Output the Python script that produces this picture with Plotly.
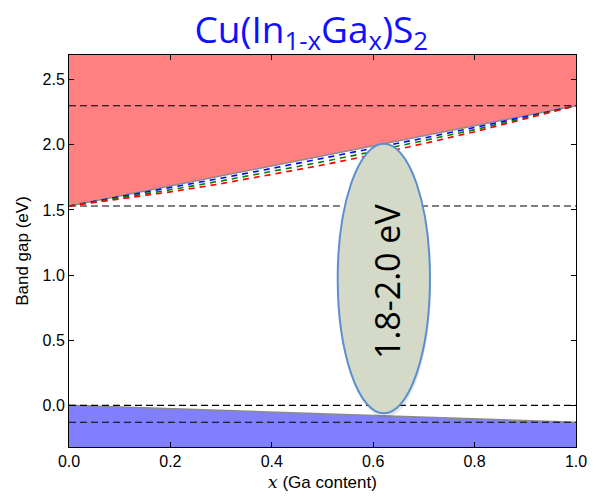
import plotly.graph_objects as go

# ---- data ----
ga_x = [0.0, 1.0]
cbm_edge = [1.53, 2.30]          # upper (red) band edge
vbm_edge = [0.0, -0.13]          # lower (blue) band edge
ref_levels = [2.30, 1.53, 0.0, -0.13]

curve_x = [0.0, 0.1, 0.2, 0.3, 0.4, 0.5, 0.6, 0.7, 0.8, 0.9, 1.0]
gap_blue = [1.53, 1.600, 1.671, 1.744, 1.819, 1.895, 1.973, 2.052, 2.133, 2.216, 2.30]
gap_green = [1.53, 1.591, 1.655, 1.723, 1.795, 1.870, 1.949, 2.031, 2.117, 2.207, 2.30]
gap_red = [1.53, 1.582, 1.639, 1.702, 1.771, 1.845, 1.925, 2.010, 2.101, 2.198, 2.30]

x_range = [0.0, 1.0]
y_range = [-0.32, 2.69]
x_ticks = [0.0, 0.2, 0.4, 0.6, 0.8, 1.0]
y_ticks = [0.0, 0.5, 1.0, 1.5, 2.0, 2.5]

target_window = {"x0": 0.53, "x1": 0.712, "y0": -0.061, "y1": 2.008}
target_label = "1.8-2.0 eV"

fig = go.Figure()

# red region above upper edge
fig.add_trace(go.Scatter(
    x=ga_x + ga_x[::-1], y=cbm_edge + [y_range[1], y_range[1]],
    fill="toself", fillcolor="#ff8080", line=dict(width=0), mode="lines",
    hoverinfo="skip", showlegend=False))
# blue region below lower edge
fig.add_trace(go.Scatter(
    x=ga_x + ga_x[::-1], y=vbm_edge + [y_range[0], y_range[0]],
    fill="toself", fillcolor="#8080ff", line=dict(width=0), mode="lines",
    hoverinfo="skip", showlegend=False))
# grey edges
for edge in (cbm_edge, vbm_edge):
    fig.add_trace(go.Scatter(x=ga_x, y=edge, mode="lines",
                             line=dict(color="#8a8a8a", width=1.5),
                             hoverinfo="skip", showlegend=False))
# black dashed reference levels
for lv in ref_levels:
    fig.add_trace(go.Scatter(x=x_range, y=[lv, lv], mode="lines",
                             line=dict(color="black", width=1.1, dash="7px,4px"),
                             hoverinfo="skip", showlegend=False))
# bowing curves
for ys, col in ((gap_blue, "#0000ff"), (gap_green, "#008000"), (gap_red, "#ff0000")):
    fig.add_trace(go.Scatter(x=curve_x, y=ys, mode="lines",
                             line=dict(color=col, width=1.6, dash="6px,5px"),
                             hoverinfo="skip", showlegend=False))

# ellipse shadow + ellipse
fig.add_shape(type="circle", xref="x", yref="y",
              x0=target_window["x0"] + 0.002, x1=target_window["x1"] + 0.002,
              y0=target_window["y0"] - 0.035, y1=target_window["y1"] - 0.035,
              fillcolor="rgba(80,80,100,0.13)", line=dict(width=0), layer="above")
fig.add_shape(type="circle", xref="x", yref="y",
              x0=target_window["x0"], x1=target_window["x1"],
              y0=target_window["y0"], y1=target_window["y1"],
              fillcolor="#d5d9c7", line=dict(color="#5b8fd0", width=2), layer="above")

fig.add_annotation(x=(target_window["x0"] + target_window["x1"]) / 2 + 0.006,
                   y=(target_window["y0"] + target_window["y1"]) / 2 - 0.02,
                   xref="x", yref="y", text=target_label, showarrow=False,
                   textangle=-90,
                   font=dict(family="Open Sans", size=34, color="black"))

# page body has an 8px default margin, so the figure is sized to fit the window
fig.update_layout(
    width=589, height=489,
    margin=dict(l=61, r=21, t=47, b=50),
    paper_bgcolor="white", plot_bgcolor="white",
    title=dict(text="Cu(In<sub>1-x</sub>Ga<sub>x</sub>)S<sub>2</sub>",
               x=0.515, xanchor="center", y=0.982, yanchor="top",
               font=dict(family="Open Sans", size=37, color="#1010ff")),
    font=dict(family="Liberation Sans", size=16, color="black"),
    # label axes (no tick marks, so labels sit close to the spine)
    xaxis=dict(range=x_range, tickvals=x_ticks, ticktext=[f"{v:.1f}" for v in x_ticks],
               ticks="", showline=True, linecolor="black", linewidth=1, mirror=True,
               showgrid=False, zeroline=False, automargin=False,
               title=dict(text="<span style=\"font-family:'DejaVu Serif';font-style:italic\">x</span> (Ga content)",
                          font=dict(size=17), standoff=6)),
    yaxis=dict(range=y_range, tickvals=y_ticks, ticktext=[f"{v:.1f}" for v in y_ticks],
               ticks="", showline=True, linecolor="black", linewidth=1, mirror=True,
               showgrid=False, zeroline=False, automargin=False,
               title=dict(text="Band gap (eV)", font=dict(size=17), standoff=9)),
    # tick-mark axes (inside ticks on all four sides)
    xaxis2=dict(range=x_range, tickvals=x_ticks, overlaying="x", anchor="y", side="bottom",
                ticks="inside", ticklen=5, tickcolor="black", showticklabels=False,
                showline=False, mirror="ticks", showgrid=False, zeroline=False),
    yaxis2=dict(range=y_range, tickvals=y_ticks, overlaying="y", anchor="x", side="left",
                ticks="inside", ticklen=5, tickcolor="black", showticklabels=False,
                showline=False, mirror="ticks", showgrid=False, zeroline=False),
)
# invisible trace to anchor the tick-mark axes
fig.add_trace(go.Scatter(x=[None], y=[None], xaxis="x2", yaxis="y2",
                         mode="markers", hoverinfo="skip", showlegend=False))

fig.write_html("out.html")
